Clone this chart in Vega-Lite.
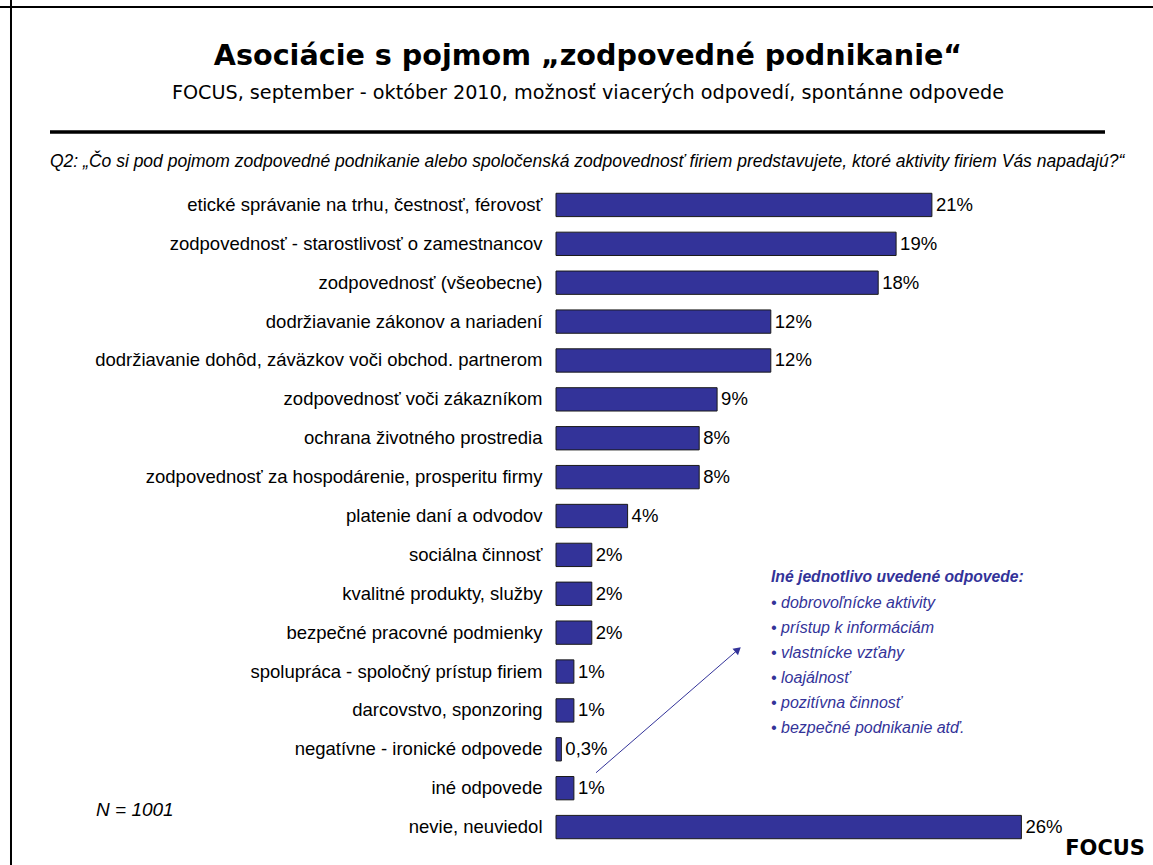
{
  "$schema": "https://vega.github.io/schema/vega-lite/v6.json",
  "width": 537,
  "height": 661,
  "autosize": "none",
  "padding": {"left": 556, "top": 185.5, "right": 60, "bottom": 18.5},
  "background": "white",
  "config": {"view": {"stroke": null}},
  "resolve": {"scale": {"y": "independent"}},
  "layer": [
    {
      "data": {
        "values": [
          {"cat": "etické správanie na trhu, čestnosť, férovosť", "pct": 21, "label": "21%"},
          {"cat": "zodpovednosť - starostlivosť o zamestnancov", "pct": 19, "label": "19%"},
          {"cat": "zodpovednosť (všeobecne)", "pct": 18, "label": "18%"},
          {"cat": "dodržiavanie zákonov a nariadení", "pct": 12, "label": "12%"},
          {"cat": "dodržiavanie dohôd, záväzkov voči obchod. partnerom", "pct": 12, "label": "12%"},
          {"cat": "zodpovednosť voči zákazníkom", "pct": 9, "label": "9%"},
          {"cat": "ochrana životného prostredia", "pct": 8, "label": "8%"},
          {"cat": "zodpovednosť za hospodárenie, prosperitu firmy", "pct": 8, "label": "8%"},
          {"cat": "platenie daní a odvodov", "pct": 4, "label": "4%"},
          {"cat": "sociálna činnosť", "pct": 2, "label": "2%"},
          {"cat": "kvalitné produkty, služby", "pct": 2, "label": "2%"},
          {"cat": "bezpečné pracovné podmienky", "pct": 2, "label": "2%"},
          {"cat": "spolupráca - spoločný prístup firiem", "pct": 1, "label": "1%"},
          {"cat": "darcovstvo, sponzoring", "pct": 1, "label": "1%"},
          {"cat": "negatívne - ironické odpovede", "pct": 0.3, "label": "0,3%"},
          {"cat": "iné odpovede", "pct": 1, "label": "1%"},
          {"cat": "nevie, neuviedol", "pct": 26, "label": "26%"}
        ]
      },
      "encoding": {
        "y": {
          "field": "cat", "type": "nominal", "sort": null,
          "scale": {"paddingInner": 0.4, "paddingOuter": 0.2},
          "axis": {"title": null, "domain": false, "ticks": false, "tickSize": 0, "labelPadding": 14, "labelLimit": 700, "labelFont": "Liberation Sans", "labelFontSize": 18.5, "labelColor": "#000000"}
        },
        "x": {"field": "pct", "type": "quantitative", "scale": {"domain": [0, 30], "nice": false}, "axis": null}
      },
      "layer": [
        {"mark": {"type": "bar", "color": "#333399", "stroke": "#1a1a1a", "strokeWidth": 1}},
        {"mark": {"type": "text", "align": "left", "baseline": "middle", "dx": 4, "font": "Liberation Sans", "fontSize": 18.5, "color": "#000000"}, "encoding": {"text": {"field": "label"}}}
      ]
    },
    {
      "layer": [
        {
          "data": {"values": [{}]},
          "mark": {"type": "rule", "color": "#000000", "strokeWidth": 2},
          "encoding": {
            "x": {"datum": -31.1, "type": "quantitative", "scale": {"domain": [0, 30], "nice": false}, "axis": null},
            "x2": {"datum": 33.4},
            "y": {"datum": -5.091, "type": "quantitative", "scale": {"domain": [-0.5, 16.5], "reverse": true, "nice": false, "zero": false}, "axis": null}
          }
        },
        {
          "data": {"values": [{}]},
          "mark": {"type": "rule", "color": "#000000", "strokeWidth": 2},
          "encoding": {
            "x": {"datum": -30.447, "type": "quantitative", "scale": {"domain": [0, 30], "nice": false}, "axis": null},
            "y": {"datum": -5.3, "type": "quantitative", "scale": {"domain": [-0.5, 16.5], "reverse": true, "nice": false, "zero": false}, "axis": null},
            "y2": {"datum": 17}
          }
        },
        {
          "data": {"values": [{}]},
          "mark": {"type": "rule", "color": "#000000", "strokeWidth": 3.5},
          "encoding": {
            "x": {"datum": -28.268, "type": "quantitative", "scale": {"domain": [0, 30], "nice": false}, "axis": null},
            "x2": {"datum": 30.67},
            "y": {"datum": -1.876, "type": "quantitative", "scale": {"domain": [-0.5, 16.5], "reverse": true, "nice": false, "zero": false}, "axis": null}
          }
        },
        {
          "data": {"values": [{"t": "Asociácie s pojmom „zodpovedné podnikanie“"}]},
          "mark": {"type": "text", "align": "center", "baseline": "alphabetic", "font": "DejaVu Sans", "fontWeight": "bold", "fontSize": 28.6, "color": "#000000"},
          "encoding": {
            "text": {"field": "t"},
            "x": {"datum": 1.788, "type": "quantitative", "scale": {"domain": [0, 30], "nice": false}, "axis": null},
            "y": {"datum": -3.599, "type": "quantitative", "scale": {"domain": [-0.5, 16.5], "reverse": true, "nice": false, "zero": false}, "axis": null}
          }
        },
        {
          "data": {"values": [{"t": "FOCUS, september - október 2010, možnosť viacerých odpovedí, spontánne odpovede"}]},
          "mark": {"type": "text", "align": "center", "baseline": "alphabetic", "font": "DejaVu Sans", "fontSize": 19.2, "color": "#000000"},
          "encoding": {
            "text": {"field": "t"},
            "x": {"datum": 1.788, "type": "quantitative", "scale": {"domain": [0, 30], "nice": false}, "axis": null},
            "y": {"datum": -2.725, "type": "quantitative", "scale": {"domain": [-0.5, 16.5], "reverse": true, "nice": false, "zero": false}, "axis": null}
          }
        },
        {
          "data": {"values": [{"t": "Q2: „Čo si pod pojmom zodpovedné podnikanie alebo spoločenská zodpovednosť firiem predstavujete, ktoré aktivity firiem Vás napadajú?“"}]},
          "mark": {"type": "text", "align": "left", "baseline": "alphabetic", "font": "Liberation Sans", "fontStyle": "italic", "fontSize": 17.5, "color": "#000000"},
          "encoding": {
            "text": {"field": "t"},
            "x": {"datum": -28.268, "type": "quantitative", "scale": {"domain": [0, 30], "nice": false}, "axis": null},
            "y": {"datum": -0.984, "type": "quantitative", "scale": {"domain": [-0.5, 16.5], "reverse": true, "nice": false, "zero": false}, "axis": null}
          }
        },
        {
          "data": {"values": [{"t": "N = 1001"}]},
          "mark": {"type": "text", "align": "left", "baseline": "alphabetic", "font": "Liberation Sans", "fontStyle": "italic", "fontSize": 19, "color": "#000000"},
          "encoding": {
            "text": {"field": "t"},
            "x": {"datum": -25.698, "type": "quantitative", "scale": {"domain": [0, 30], "nice": false}, "axis": null},
            "y": {"datum": 15.717, "type": "quantitative", "scale": {"domain": [-0.5, 16.5], "reverse": true, "nice": false, "zero": false}, "axis": null}
          }
        },
        {
          "data": {"values": [{"t": "FOCUS"}]},
          "mark": {"type": "text", "align": "right", "baseline": "alphabetic", "font": "DejaVu Sans", "fontWeight": "bold", "fontSize": 21, "color": "#000000"},
          "encoding": {
            "text": {"field": "t"},
            "x": {"datum": 32.905, "type": "quantitative", "scale": {"domain": [0, 30], "nice": false}, "axis": null},
            "y": {"datum": 16.719, "type": "quantitative", "scale": {"domain": [-0.5, 16.5], "reverse": true, "nice": false, "zero": false}, "axis": null}
          }
        },
        {
          "data": {"values": [{"t": "Iné jednotlivo uvedené odpovede:"}]},
          "mark": {"type": "text", "align": "left", "baseline": "alphabetic", "font": "Liberation Sans", "fontStyle": "italic", "fontWeight": "bold", "fontSize": 15.7, "color": "#333399"},
          "encoding": {
            "text": {"field": "t"},
            "x": {"datum": 12.011, "type": "quantitative", "scale": {"domain": [0, 30], "nice": false}, "axis": null},
            "y": {"datum": 9.69, "type": "quantitative", "scale": {"domain": [-0.5, 16.5], "reverse": true, "nice": false, "zero": false}, "axis": null}
          }
        },
        {
          "data": {"values": [{"t": ["• dobrovoľnícke  aktivity", "• prístup k informáciám", "• vlastnícke vzťahy", "• loajálnosť", "• pozitívna činnosť", "• bezpečné podnikanie atď."]}]},
          "mark": {"type": "text", "align": "left", "baseline": "alphabetic", "lineHeight": 25, "font": "Liberation Sans", "fontStyle": "italic", "fontSize": 16, "color": "#333399"},
          "encoding": {
            "text": {"field": "t"},
            "x": {"datum": 12.011, "type": "quantitative", "scale": {"domain": [0, 30], "nice": false}, "axis": null},
            "y": {"datum": 10.374, "type": "quantitative", "scale": {"domain": [-0.5, 16.5], "reverse": true, "nice": false, "zero": false}, "axis": null}
          }
        },
        {
          "data": {"values": [{}]},
          "mark": {"type": "rule", "color": "#333399", "strokeWidth": 1},
          "encoding": {
            "x": {"datum": 2.235, "type": "quantitative", "scale": {"domain": [0, 30], "nice": false}, "axis": null},
            "x2": {"datum": 10.168},
            "y": {"datum": 14.603, "type": "quantitative", "scale": {"domain": [-0.5, 16.5], "reverse": true, "nice": false, "zero": false}, "axis": null},
            "y2": {"datum": 11.437}
          }
        },
        {
          "data": {"values": [{}]},
          "mark": {"type": "point", "shape": "triangle-up", "filled": true, "color": "#333399", "opacity": 1, "size": 70, "angle": 49},
          "encoding": {
            "x": {"datum": 10.168, "type": "quantitative", "scale": {"domain": [0, 30], "nice": false}, "axis": null},
            "y": {"datum": 11.437, "type": "quantitative", "scale": {"domain": [-0.5, 16.5], "reverse": true, "nice": false, "zero": false}, "axis": null}
          }
        }
      ]
    }
  ]
}
